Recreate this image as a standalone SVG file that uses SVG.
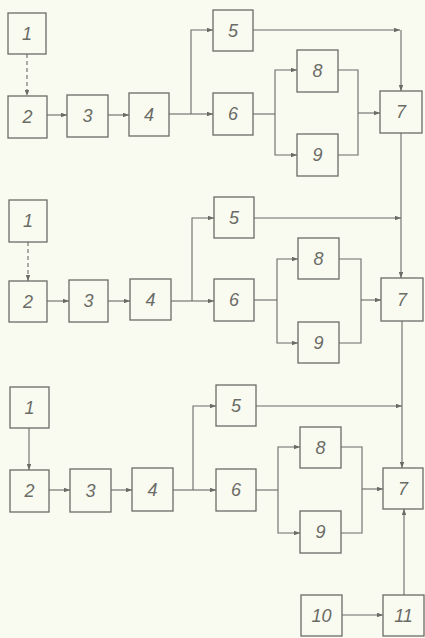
<svg xmlns="http://www.w3.org/2000/svg" width="425" height="638" viewBox="0 0 425 638">
<style>
.bg{fill:#f9fbf1}
.box rect{fill:none;stroke:#6b6b66;stroke-width:1.3}
.box text{font-family:"Liberation Sans",Arial,sans-serif;font-style:italic;font-size:18px;fill:#6b6b66;text-anchor:middle}
.c path{fill:none;stroke:#6b6b66;stroke-width:1.1}
.c .dash{stroke-dasharray:4 3}
.ar{marker-end:url(#ah)}
</style>
<defs>
<marker id="ah" viewBox="0 0 8 6" refX="8" refY="3" markerWidth="6" markerHeight="4.5" orient="auto" markerUnits="userSpaceOnUse">
<path d="M0,0 L8,3 L0,6 z" fill="#6b6b66"/>
</marker>
</defs>
<rect class="bg" x="0" y="0" width="425" height="638"/>

<g class="c" id="connectors">
<!-- row 1 -->
<path class="dash ar" d="M27,54 V96"/>
<path class="ar" d="M47,115 H67"/>
<path class="ar" d="M108,115 H129"/>
<path d="M169,114 H191"/>
<path class="ar" d="M191,114 V30 H213"/>
<path class="ar" d="M191,114 H213"/>
<path d="M253,114 H275"/>
<path class="ar" d="M275,114 V70 H297"/>
<path class="ar" d="M275,114 V155 H297"/>
<path d="M338,70 H358 V155 H338"/>
<path class="ar" d="M358,113 H380"/>
<path class="ar" d="M253,30 H400"/>
<path class="ar" d="M401,30 V91"/>
<path d="M401,133 V218"/>
<!-- row 2 -->
<path class="dash ar" d="M28,242 V281"/>
<path class="ar" d="M47,301 H69"/>
<path class="ar" d="M108,301 H130"/>
<path d="M171,301 H192"/>
<path class="ar" d="M192,301 V218 H214"/>
<path class="ar" d="M192,301 H214"/>
<path d="M254,300 H277"/>
<path class="ar" d="M277,300 V259 H298"/>
<path class="ar" d="M277,300 V343 H298"/>
<path d="M339,259 H361 V343 H339"/>
<path class="ar" d="M361,300 H381"/>
<path class="ar" d="M254,218 H401"/>
<path class="ar" d="M401,218 V278"/>
<path d="M402,321 V406"/>
<!-- row 3 -->
<path class="ar" d="M29,428 V470"/>
<path class="ar" d="M49,490 H70"/>
<path class="ar" d="M111,490 H132"/>
<path d="M173,490 H193"/>
<path class="ar" d="M193,490 V406 H216"/>
<path class="ar" d="M193,490 H216"/>
<path d="M256,490 H278"/>
<path class="ar" d="M278,490 V447 H300"/>
<path class="ar" d="M278,490 V533 H300"/>
<path d="M341,447 H362 V533 H341"/>
<path class="ar" d="M362,489 H383"/>
<path class="ar" d="M256,406 H402"/>
<path class="ar" d="M402,406 V468"/>
<path class="ar" d="M342,615 H383"/>
<path class="ar" d="M404,595 V509"/>
</g>

<!-- row 1 nodes -->
<g class="box" id="r1-n1"><rect x="8" y="13" width="38" height="41"/><text x="27" y="40">1</text></g>
<g class="box" id="r1-n2"><rect x="8" y="96" width="39" height="42"/><text x="27.5" y="123">2</text></g>
<g class="box" id="r1-n3"><rect x="67" y="95" width="41" height="42"/><text x="87.5" y="122">3</text></g>
<g class="box" id="r1-n4"><rect x="129" y="93" width="40" height="43"/><text x="149" y="121">4</text></g>
<g class="box" id="r1-n5"><rect x="213" y="10" width="40" height="41"/><text x="233" y="37">5</text></g>
<g class="box" id="r1-n6"><rect x="213" y="93" width="40" height="42"/><text x="233" y="120">6</text></g>
<g class="box" id="r1-n8"><rect x="297" y="50" width="41" height="42"/><text x="317.5" y="77">8</text></g>
<g class="box" id="r1-n9"><rect x="297" y="134" width="41" height="42"/><text x="317.5" y="161">9</text></g>
<g class="box" id="r1-n7"><rect x="380" y="91" width="42" height="42"/><text x="401" y="118">7</text></g>

<!-- row 2 nodes -->
<g class="box" id="r2-n1"><rect x="9" y="200" width="38" height="42"/><text x="28" y="227">1</text></g>
<g class="box" id="r2-n2"><rect x="9" y="281" width="38" height="41"/><text x="28" y="308">2</text></g>
<g class="box" id="r2-n3"><rect x="69" y="280" width="39" height="42"/><text x="88.5" y="307">3</text></g>
<g class="box" id="r2-n4"><rect x="130" y="279" width="41" height="41"/><text x="150.5" y="306">4</text></g>
<g class="box" id="r2-n5"><rect x="214" y="197" width="40" height="41"/><text x="234" y="224">5</text></g>
<g class="box" id="r2-n6"><rect x="214" y="279" width="40" height="42"/><text x="234" y="306">6</text></g>
<g class="box" id="r2-n8"><rect x="298" y="238" width="41" height="41"/><text x="318.5" y="265">8</text></g>
<g class="box" id="r2-n9"><rect x="298" y="322" width="41" height="41"/><text x="318.5" y="349">9</text></g>
<g class="box" id="r2-n7"><rect x="381" y="278" width="42" height="43"/><text x="402" y="306">7</text></g>

<!-- row 3 nodes -->
<g class="box" id="r3-n1"><rect x="10" y="387" width="39" height="41"/><text x="29.5" y="414">1</text></g>
<g class="box" id="r3-n2"><rect x="10" y="470" width="39" height="42"/><text x="29.5" y="497">2</text></g>
<g class="box" id="r3-n3"><rect x="70" y="469" width="41" height="43"/><text x="90.5" y="497">3</text></g>
<g class="box" id="r3-n4"><rect x="132" y="468" width="41" height="43"/><text x="152.5" y="496">4</text></g>
<g class="box" id="r3-n5"><rect x="216" y="385" width="40" height="41"/><text x="236" y="412">5</text></g>
<g class="box" id="r3-n6"><rect x="216" y="469" width="40" height="42"/><text x="236" y="496">6</text></g>
<g class="box" id="r3-n8"><rect x="300" y="427" width="41" height="41"/><text x="320.5" y="454">8</text></g>
<g class="box" id="r3-n9"><rect x="300" y="511" width="41" height="42"/><text x="320.5" y="538">9</text></g>
<g class="box" id="r3-n7"><rect x="383" y="468" width="40" height="41"/><text x="403" y="495">7</text></g>
<g class="box" id="n10"><rect x="301" y="595" width="41" height="41"/><text x="321.5" y="622">10</text></g>
<g class="box" id="n11"><rect x="383" y="595" width="41" height="41"/><text x="403.5" y="622">11</text></g>
</svg>
